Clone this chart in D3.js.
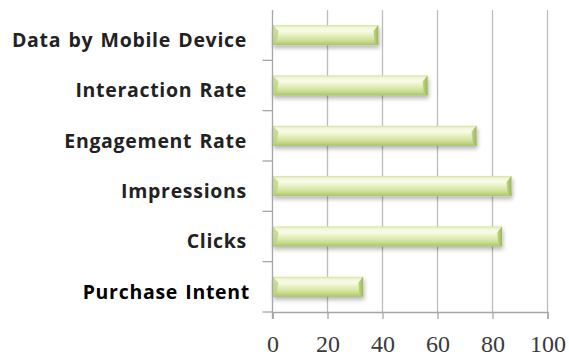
<!DOCTYPE html>
<html>
<head>
<meta charset="utf-8">
<script src="https://cdn.jsdelivr.net/npm/d3@7"></script>
<style>
  html, body { margin: 0; padding: 0; background: #ffffff; }
  svg { display: block; }
</style>
</head>
<body>
<svg id="chart" width="569" height="356"></svg>
<script>
// Metrics listed top to bottom, with their scores (0-100)
const categories = ["Data by Mobile Device", "Interaction Rate", "Engagement Rate", "Impressions", "Clicks", "Purchase Intent"];
const values = [38.5, 56.4, 74.2, 86.9, 83.5, 33];
const xTicks = [0, 20, 40, 60, 80, 100];

const svg = d3.select("#chart");
const plotLeft = 272.5, plotRight = 547.5, plotTop = 10, plotBottom = 312;

const x = d3.scaleLinear().domain([0, 100]).range([plotLeft, plotRight]);
const yBand = d3.scaleBand().domain(categories).range([plotTop, plotBottom]).padding(0);
const yBar = d3.scaleBand().domain(categories).range([plotTop, plotBottom])
  .paddingInner(0.6).paddingOuter(0.3);

const defs = svg.append("defs");
const grad = defs.append("linearGradient").attr("id", "barFill")
  .attr("x1", 0).attr("y1", 0).attr("x2", 0).attr("y2", 1);
[[0, "#d3e3a0"], [0.12, "#f2f7d9"], [0.3, "#f8fbe8"], [0.5, "#e6f0c0"],
 [0.75, "#cfe197"], [1, "#a9c36b"]].forEach(([o, c]) =>
  grad.append("stop").attr("offset", o).attr("stop-color", c));

const capGrad = defs.append("linearGradient").attr("id", "capFill")
  .attr("x1", 0).attr("y1", 0).attr("x2", 1).attr("y2", 0);
[[0, "#c4da88"], [1, "#98b45a"]].forEach(([o, c]) =>
  capGrad.append("stop").attr("offset", o).attr("stop-color", c));

const shadow = defs.append("filter").attr("id", "shadow")
  .attr("x", "-10%").attr("y", "-40%").attr("width", "120%").attr("height", "200%");
shadow.append("feGaussianBlur").attr("in", "SourceAlpha").attr("stdDeviation", 2);
shadow.append("feOffset").attr("dx", 1).attr("dy", 3).attr("result", "off");
shadow.append("feComponentTransfer").append("feFuncA").attr("type", "linear").attr("slope", 0.28);
const merge = shadow.append("feMerge");
merge.append("feMergeNode");
merge.append("feMergeNode").attr("in", "SourceGraphic");

// vertical gridlines
svg.append("g").selectAll("line").data(xTicks.filter(d => d > 0)).join("line")
  .attr("x1", d => x(d)).attr("x2", d => x(d))
  .attr("y1", plotTop).attr("y2", plotBottom)
  .attr("stroke", "#bdbdbd").attr("stroke-width", 1.3);

// bars
const bars = svg.append("g").selectAll("g").data(categories).join("g")
  .attr("filter", "url(#shadow)");
bars.append("rect")
  .attr("x", x(0)).attr("y", d => yBar(d))
  .attr("width", (d, i) => x(values[i]) - x(0))
  .attr("height", yBar.bandwidth())
  .attr("fill", "url(#barFill)");
// bevelled right end
bars.append("path")
  .attr("d", (d, i) => {
    const xe = x(values[i]), y0 = yBar(d), h = yBar.bandwidth();
    return `M${xe - 5},${y0 + 6} L${xe},${y0} L${xe},${y0 + h} L${xe - 4},${y0 + h - 3} Z`;
  })
  .attr("fill", "url(#capFill)");
// bevelled left end
bars.append("path")
  .attr("d", d => {
    const xs = x(0), y0 = yBar(d), h = yBar.bandwidth();
    return `M${xs},${y0} L${xs + 6},${y0 + 6} L${xs + 4},${y0 + h - 3} L${xs},${y0 + h} Z`;
  })
  .attr("fill", "#bcd47e").attr("opacity", 0.8);

// left axis line and category ticks
const axisColor = "#a6a6a6";
svg.append("line").attr("x1", plotLeft).attr("x2", plotLeft).attr("y1", plotTop).attr("y2", plotBottom + 7)
  .attr("stroke", axisColor).attr("stroke-width", 1.3);
svg.append("g").selectAll("line").data(categories).join("line")
  .attr("x1", plotLeft - 10).attr("x2", plotLeft)
  .attr("y1", d => yBand(d) + yBand.bandwidth()).attr("y2", d => yBand(d) + yBand.bandwidth())
  .attr("stroke", axisColor).attr("stroke-width", 1.3);

// bottom axis
const xAxis = svg.append("g").attr("transform", `translate(0,${plotBottom})`)
  .call(d3.axisBottom(x).tickValues(xTicks).tickSize(7).tickPadding(20));
xAxis.select(".domain").attr("stroke", axisColor).attr("stroke-width", 1.3);
xAxis.selectAll(".tick line").attr("stroke", axisColor).attr("stroke-width", 1.3);
xAxis.selectAll(".tick text")
  .attr("font-family", "'Liberation Serif', 'Times New Roman', serif")
  .attr("font-size", 24).attr("fill", "#3a3a3a").attr("dy", "0.55em");

// category labels
svg.append("g").selectAll("text").data(categories).join("text")
  .attr("x", d => d === "Purchase Intent" ? 250 : 247)
  .attr("y", d => yBand(d) + yBand.bandwidth() / 2 + 5)
  .attr("dy", "0.35em")
  .attr("text-anchor", "end")
  .attr("font-family", "'Open Sans', 'Noto Sans', sans-serif")
  .attr("font-weight", 700)
  .attr("font-size", 19.5)
  .attr("letter-spacing", 0.7)
  .attr("word-spacing", 1.5)
  .attr("fill", d => d === "Purchase Intent" ? "#000" : "#222")
  .text(d => d);
</script>
</body>
</html>
